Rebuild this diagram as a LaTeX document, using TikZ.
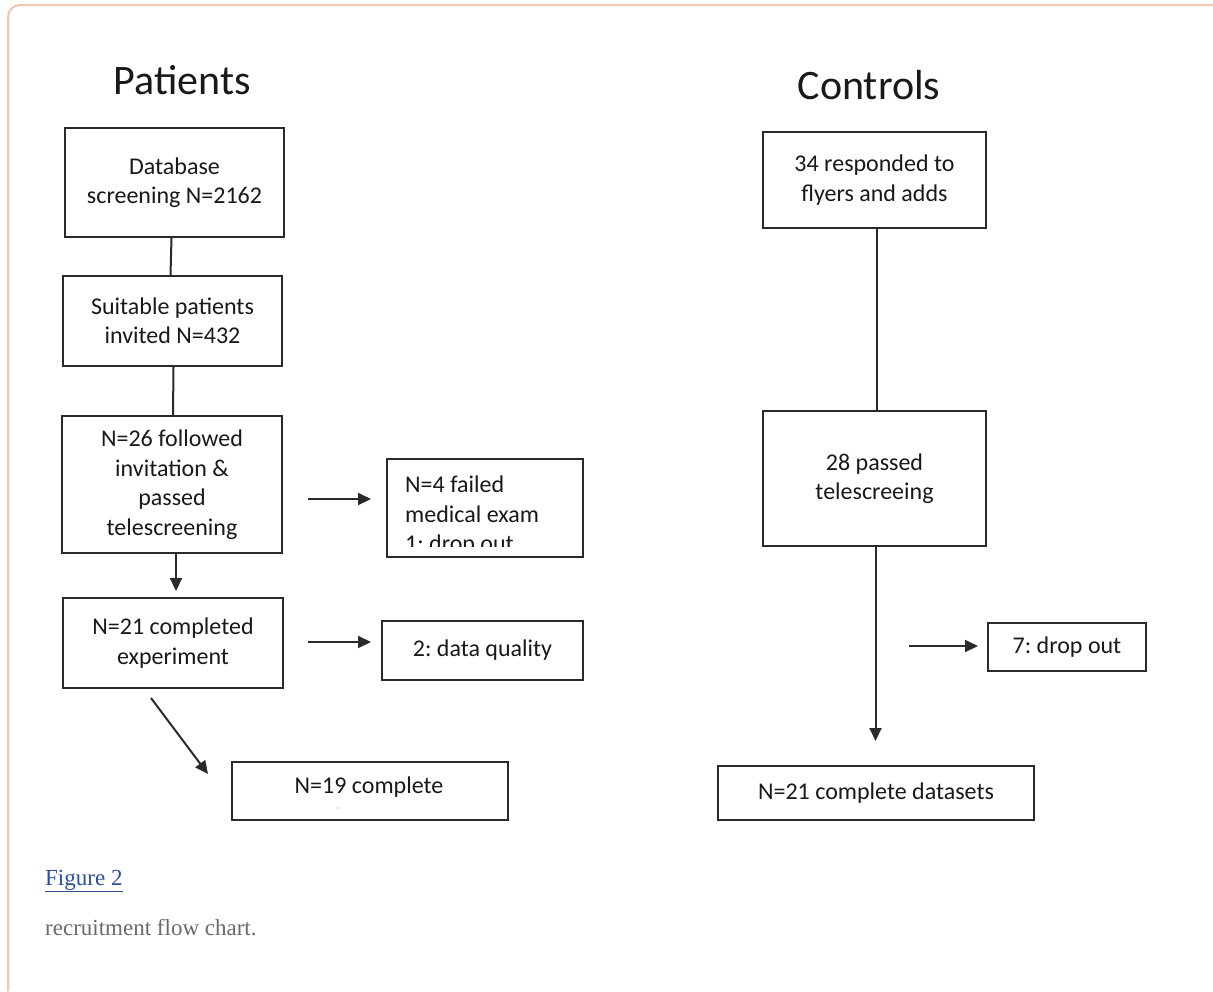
\documentclass[tikz,border=0pt]{standalone}
\usepackage{fontspec}
\setmainfont{Carlito}
\newfontfamily\capfont{Liberation Serif}
\usetikzlibrary{arrows.meta}
\definecolor{frame}{HTML}{F0C6B0}
\definecolor{boxline}{HTML}{2A2A2A}
\definecolor{linkblue}{HTML}{2E4F99}
\definecolor{capgray}{HTML}{6A6A6A}
\frenchspacing
\tikzset{
  box/.style={draw=boxline, line width=2pt, anchor=north west, inner sep=0pt,
    align=center, text=black!90, font=\fontsize{24}{29.5}\selectfont},
  conn/.style={draw=boxline, line width=2pt},
  arr/.style={draw=boxline, line width=2pt, -{Triangle[length=13pt,width=12pt]}},
  title/.style={font=\fontsize{42}{48}\selectfont, text=black!90}
}
\begin{document}
\begin{tikzpicture}[x=1pt,y=-1pt]
\useasboundingbox (0,0) rectangle (1213,991);
\fill[white] (0,0) rectangle (1213,991);
% frame
\draw[frame, line width=2pt, rounded corners=12pt] (8,991) -- (8,5) -- (1213,5);

% titles
\node[title] (tp) at (182,80) {Patients};
\node[title] (tc) at (869,85) {Controls};

% Patients boxes
\node[box, minimum width=219pt, minimum height=109pt] (db) at (64,127) {Database\\screening N=2162};
\node[box, minimum width=219pt, minimum height=90pt] (su) at (62,275) {Suitable patients\\invited N=432};
\node[box, minimum width=220pt, minimum height=137pt] (n26) at (61,415) {N=26 followed\\invitation \&\\passed\\telescreening};
\node[box, minimum width=196pt, minimum height=98pt] (n4) at (386,458) {};
\begin{scope}
  \clip (388,460) rectangle (580,546);
  \node[anchor=north west, inner sep=0pt, align=left, text=black!90,
        font=\fontsize{24}{29.5}\selectfont] (n4t) at (405,476) {N=4 failed\\medical exam\\1: drop out};
\end{scope}
\node[box, minimum width=220pt, minimum height=90pt] (n21) at (62,597) {N=21 completed\\experiment};
\node[box, minimum width=201pt, minimum height=59pt] (dq) at (381,620) {2: data quality};
\node[box, minimum width=276pt, minimum height=58pt] (n19) at (231,761) {};
\node[text=black!90, font=\fontsize{24}{29.5}\selectfont] (n19t) at (369,787) {N=19 complete};
\fill[gray!60] (n19.south) ++(-32,-13) circle (0.9);

% Controls boxes
\node[box, minimum width=223pt, minimum height=96pt] (c34) at (762,131) {34 responded to\\flyers and adds};
\node[box, minimum width=223pt, minimum height=135pt] (c28) at (762,410) {28 passed\\telescreeing};
\node[box, minimum width=158pt, minimum height=48pt] (c7) at (987,622) {7: drop out};
\node[box, minimum width=316pt, minimum height=54pt] (c21) at (717,765) {N=21 complete datasets};

% connectors patients
\draw[conn] ([xshift=-3pt]db.south) -- ([xshift=-2pt]su.north);
\draw[conn] ([xshift=1pt]su.south) -- ([xshift=1pt]n26.north);
\draw[arr, shorten >=6pt] ([xshift=4pt]n26.south) -- ([xshift=3pt]n21.north);
\coordinate (a1s) at (308,499);
\coordinate (a1e) at (371,499);
\draw[arr] (a1s) -- (a1e);
\coordinate (a2s) at (308,642);
\coordinate (a2e) at (371,642);
\draw[arr] (a2s) -- (a2e);
\coordinate (a3s) at (151,698);
\coordinate (a3e) at (208,774);
\draw[arr] (a3s) -- (a3e);

% connectors controls
\draw[conn] ([xshift=2pt]c34.south) -- ([xshift=2pt]c28.north);
\draw[arr, shorten >=24pt] ([xshift=1pt]c28.south) -- ([xshift=1pt]c28.south |- c21.north);
\coordinate (b1s) at (909,646);
\coordinate (b1e) at (978,646);
\draw[arr] (b1s) -- (b1e);

% caption
\node[anchor=base west, inner sep=0pt, text=linkblue, font=\capfont\fontsize{23}{27}\selectfont] (fig) at (45,885) {\underline{Figure 2}};
\node[anchor=base west, inner sep=0pt, text=capgray, font=\capfont\fontsize{23}{27}\selectfont] (cap) at (45,935) {recruitment flow chart.};
\end{tikzpicture}
\end{document}
